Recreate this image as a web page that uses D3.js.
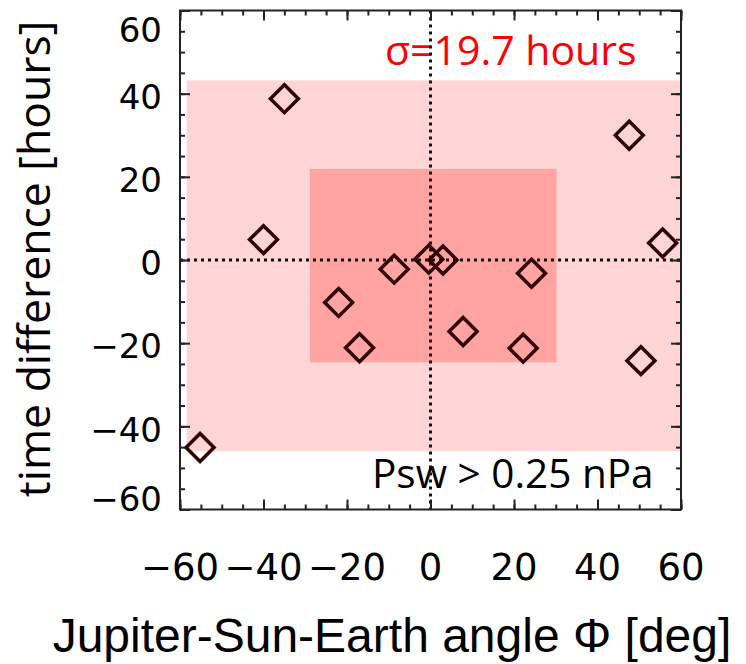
<!DOCTYPE html>
<html>
<head>
<meta charset="utf-8">
<script src="https://cdn.jsdelivr.net/npm/d3@7"></script>
<style>
  body { margin: 0; background: #fff; }
</style>
</head>
<body>
<svg id="chart"></svg>
<script>
// Jupiter-Sun-Earth angle vs time difference
const angle = [-35, -40, -8.7, -0.4, 3, -22, -17, -55.2, 7.8, 22.2, 24.2, 50.4, 47.6, 55.6]
const timeDiff = [38.8, 4.9, -2.2, 0.2, 0, -10.2, -21.1, -45.1, -17.2, -21.2, -3.2, -24.2, 30, 4.1]

// shaded bands: [xmin, xmax, ymin, ymax]
const outerBand = [-58.4, 60, -46, 43.2]
const innerBand = [-28.9, 30.2, -24.6, 21.9]

const majorTicks = [-60, -40, -20, 0, 20, 40, 60]
const minorTicks = d3.range(-60, 61, 5)

const sigmaLabel = "σ=19.7 hours"
const pswLabel = "Psw > 0.25 nPa"
const xTitle = "Jupiter-Sun-Earth angle Φ [deg]"
const yTitle = "time difference [hours]"

const width = 746, height = 664
const frame = { left: 180, right: 681, top: 10.5, bottom: 509.5 }

const svg = d3.select("#chart")
    .attr("width", width)
    .attr("height", height)
    .style("background", "#fff")

const xScale = d3.scaleLinear()
    .domain([-60, 60])
    .range([frame.left, frame.right])

const yScale = d3.scaleLinear()
    .domain([-60, 60])
    .range([frame.bottom, frame.top])

const band = (b, fill) => svg.append("rect")
    .attr("x", xScale(b[0]))
    .attr("width", xScale(b[1]) - xScale(b[0]))
    .attr("y", yScale(b[3]))
    .attr("height", yScale(b[2]) - yScale(b[3]))
    .attr("fill", fill)

band(outerBand, "#ffd5d6")
band(innerBand, "#ffa3a3")

// annotations (sit under the dotted lines)
svg.append("text")
    .attr("x", 385).attr("y", 65)
    .attr("font-family", "'Open Sans', sans-serif")
    .attr("font-size", 41)
    .attr("fill", "#ff0000")
    .text(sigmaLabel)

svg.append("text")
    .attr("x", 372).attr("y", 488)
    .attr("font-family", "'Open Sans', sans-serif")
    .attr("font-size", 40.5)
    .attr("fill", "#000")
    .text(pswLabel)

// dotted zero lines
svg.append("line")
    .attr("x1", xScale(0)).attr("x2", xScale(0))
    .attr("y1", frame.top).attr("y2", frame.bottom)
    .attr("stroke", "#111").attr("stroke-width", 3)
    .attr("stroke-dasharray", "3,4")

svg.append("line")
    .attr("x1", frame.left).attr("x2", frame.right)
    .attr("y1", yScale(0)).attr("y2", yScale(0))
    .attr("stroke", "#111").attr("stroke-width", 3)
    .attr("stroke-dasharray", "3,4")

// diamonds
const diamond = d3.symbol().type(d3.symbolSquare).size(390)
svg.append("g").selectAll("path")
    .data(angle)
    .join("path")
    .attr("d", diamond)
    .attr("transform", (d, i) => `translate(${xScale(d)},${yScale(timeDiff[i])}) rotate(45)`)
    .attr("fill", "none")
    .attr("stroke", "#300000")
    .attr("stroke-width", 3.5)

// frame ticks on all four sides, pointing inward
const tickAxis = (gen, scale, vals, size, transform) => svg.append("g")
    .attr("transform", transform)
    .call(gen(scale).tickValues(vals).tickSize(-size).tickFormat(""))
    .call(g => g.select(".domain").remove())
    .call(g => g.selectAll("line").attr("stroke", "#222").attr("stroke-width", 2))

;[[minorTicks, 5], [majorTicks, 10]].forEach(([vals, size]) => {
  tickAxis(d3.axisBottom, xScale, vals, size, `translate(0,${frame.bottom})`)
  tickAxis(d3.axisTop, xScale, vals, size, `translate(0,${frame.top})`)
  tickAxis(d3.axisLeft, yScale, vals, size, `translate(${frame.left},0)`)
  tickAxis(d3.axisRight, yScale, vals, size, `translate(${frame.right},0)`)
})

svg.append("rect")
    .attr("x", frame.left).attr("y", frame.top)
    .attr("width", frame.right - frame.left)
    .attr("height", frame.bottom - frame.top)
    .attr("fill", "none")
    .attr("stroke", "#222")
    .attr("stroke-width", 2)

// tick labels
const fmt = d3.format("d")

svg.append("g").selectAll("text")
    .data(majorTicks)
    .join("text")
    .attr("x", d => xScale(d))
    .attr("y", 580)
    .attr("text-anchor", "middle")
    .attr("font-family", "'DejaVu Sans', sans-serif")
    .attr("font-size", 37)
    .attr("fill", "#000")
    .text(fmt)

// end labels are kept inside the frame like the original
svg.append("g").selectAll("text")
    .data(majorTicks)
    .join("text")
    .attr("x", 162)
    .attr("y", d => Math.min(Math.max(yScale(d) + 3, 30), 499))
    .attr("dy", "0.36em")
    .attr("text-anchor", "end")
    .attr("font-family", "'DejaVu Sans', sans-serif")
    .attr("font-size", 34)
    .attr("fill", "#000")
    .text(fmt)

// axis titles
svg.append("text")
    .attr("x", 392).attr("y", 652)
    .attr("text-anchor", "middle")
    .attr("font-family", "'Liberation Sans', Arial, sans-serif")
    .attr("font-size", 48)
    .attr("fill", "#000")
    .text(xTitle)

svg.append("text")
    .attr("transform", "translate(50,259) rotate(-90)")
    .attr("text-anchor", "middle")
    .attr("font-family", "'Open Sans', sans-serif")
    .attr("font-size", 44.5)
    .attr("fill", "#000")
    .text(yTitle)
</script>
</body>
</html>
